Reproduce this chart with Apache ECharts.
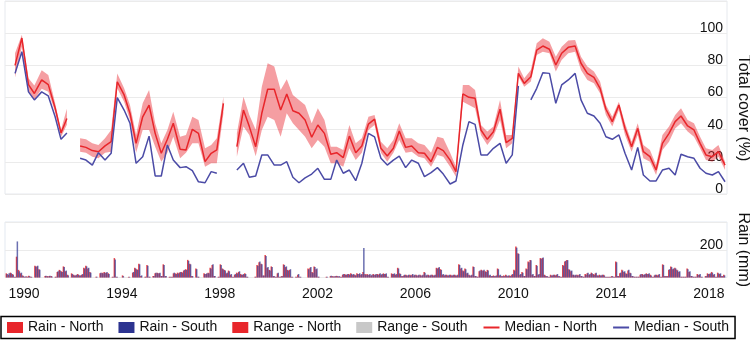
<!DOCTYPE html>
<html>
<head>
<meta charset="utf-8">
<script src="https://cdn.jsdelivr.net/npm/echarts@6/dist/echarts.min.js"></script>
<style>
html, body { margin: 0; padding: 0; background: #fff; }
#chart { width: 750px; height: 342px; }
</style>
</head>
<body>
<div id="chart"></div>
<script>
// survey dates (decimal years), a null row marks a break in the record
var coverDates = [
  1989.63, 1989.91, 1990.18, 1990.42, 1990.72, 1990.99, 1991.27, 1991.51, 1991.75,
  1992.02,
  1992.29, 1992.53, 1992.79, 1993.04, 1993.31, 1993.56, 1993.81, 1994.09, 1994.33, 1994.58, 1994.85, 1995.11,
  1995.36, 1995.61, 1995.86, 1996.10, 1996.38, 1996.62, 1996.88, 1997.13, 1997.40, 1997.65, 1997.88, 1998.15,
  1998.42,
  1998.70, 1998.97, 1999.21, 1999.47, 1999.72, 1999.96,
  2000.23, 2000.49, 2000.74, 2000.99,
  2001.24, 2001.49, 2001.76,
  2002.01, 2002.28, 2002.54, 2002.78,
  2003.05, 2003.30, 2003.56, 2003.81,
  2004.08, 2004.33, 2004.59, 2004.85,
  2005.10, 2005.34, 2005.60, 2005.85,
  2006.12, 2006.37, 2006.64, 2006.90,
  2007.14, 2007.42, 2007.66, 2007.94,
  2008.19, 2008.44, 2008.68, 2008.94,
  2009.19, 2009.46, 2009.71, 2009.96,
  2010.21, 2010.45, 2010.72, 2010.96,
  2011.21, 2011.48, 2011.74, 2011.98,
  2012.25, 2012.53, 2012.77,
  2013.03, 2013.30, 2013.55, 2013.79,
  2014.05, 2014.32, 2014.57, 2014.84,
  2015.09, 2015.32, 2015.59, 2015.84,
  2016.10, 2016.37, 2016.62, 2016.86,
  2017.13, 2017.39, 2017.64, 2017.88,
  2018.14, 2018.39, 2018.66
];

var medianNorth = [
  80, 97, 68, 62.5, 71, 68, 53.5, 38, 47,
  null,
  29.8, 29, 27, 26.3, 29.9, 32.5, 69.8, 61.6, 50.2, 31.5, 48, 55.3,
  37.7, 25.3, 34, 44, 27.8, 27.4, 40.2, 37.7, 20.1, 25.3, 27.4, 56.4,
  null,
  29.4, 52.2, 41.9, 29.4, 50.2, 65.1,
  65.1, 52.2, 62.2, 51.8,
  50.2, 46, 35.3,
  42.9, 37.7, 24.7, 25.7,
  22.6, 36, 25.7, 29.9,
  43.5, 46.5, 28.4, 23.6,
  28.4, 39.2, 29, 29.9,
  25.7, 25.3, 20.1, 29,
  27, 21.1, 13.9, 62.2,
  60.1, 59.5, 39.8, 34,
  38.7, 52.7, 31.9, 34.6,
  75, 68.8, 72.9, 89.5,
  92, 90, 80.2, 87.5,
  91.2, 92, 81.3,
  75, 72.5, 65.7, 52.7,
  45, 55.3, 40.8, 29.4,
  40.8, 26.3, 23.2, 14.9,
  31.5, 37.7, 45, 48.5,
  42.3, 39.8, 31.5, 24.3,
  23.2, 26.3, 18
];

var medianSouth = [
  75, 88.5, 63.5, 58.5, 63.5, 61, 48, 34, 38,
  null,
  22.2, 21.1, 18, 25.7, 21.1, 25.3, 59.9, 52.2, 44, 19.1, 23.2, 36,
  11.2, 11.2, 30.5, 21.1, 16.4, 17, 14.5, 7.6, 7, 13.9, 12.9, null,
  null,
  14.9, 19.1, 10.4, 11.2, 24.3, 24.3,
  18, 18, 20.1, 10.4,
  7, 10, 12.4,
  16, 9.1, 9.1, 21.1,
  12.9, 14.9, 8.3, 19.1,
  37.7, 35.5, 22.2, 18,
  21.1, 23.6, 16.4, 21.1,
  19.1, 10.8, 13.3, 16.4,
  12.4, 6.2, 8.1, 30.5,
  45, 43.3, 24.3, 24.3,
  28.4, 31.5, 19.1, 24.3,
  67.2, null, 58.5, 65.7,
  75.4, 75, 56.4, 67.8,
  70.9, 75, 58.5,
  50.2, 48.5, 44, 35.6,
  34, 36.7, 25.3, 14.9,
  29, 11.8, 8.1, 8.1,
  14.9, 16, 11.8, 24.7,
  23.2, 22.2, 16, 12.9,
  11.8, 13.9, 7.6
];

var rangeNorthLow = [
  72.5, 91.5, 63.5, 58.5, 65.5, 63.5, 51, 35.5, 43,
  null,
  26.3, 25.7, 23.2, 22.2, 25.7, 26.3, 65.7, 57.4, 46, 25.7, 39.8, 39.8,
  29.4, 20.1, 25.7, 35.6, 22.2, 25.7, 31.5, 31.5, 17, 19.1, 19.1, 50.2,
  null,
  23.2, 41.9, 36.7, 23.5, 39.8, 48,
  46, 35.6, 50.2, 44,
  39.8, 35.6, 28.4,
  33.6, 29.4, 19.1, 19.1,
  17, 28.4, 21.1, 25.7,
  39.8, 42.9, 25.7, 20.1,
  25.7, 33.6, 25.7, 26.3,
  23.2, 22.2, 17, 24.3,
  23.2, 17, 10.8, 57.4,
  55.3, 53.3, 36.7, 30.5,
  35.6, 46, 28.4, 31.5,
  73, 66.7, 69.9, 86.4,
  88.5, 87.5, 76.1, 83.3,
  87.5, 88.5, 77.1,
  70.9, 68.8, 62.6, 49.1,
  41.9, 52.2, 36.7, 26.3,
  36.7, 22.2, 20.1, 11.8,
  27.4, 32.5, 40.8, 44,
  38.8, 35.6, 28.4, 21.1,
  20.1, 23.2, 14.9
];

var rangeNorthHigh = [
  87.5, 99, 72, 67.5, 77, 74, 56.5, 40, 53,
  null,
  34.6, 34, 31.5, 30.5, 34.6, 39.8, 75, 65.7, 55.3, 36.7, 56.4, 64.7,
  44, 31.5, 39.8, 51.2, 35.6, 36.7, 48, 46, 28.4, 30.5, 34.6, 60.5,
  null,
  37.7, 60.5, 49.1, 40, 66.7, 81.3,
  79.2, 64.7, 71.3, 61.6,
  58.5, 55.3, 44,
  53.3, 46, 29.4, 29.4,
  27.4, 42.9, 31.5, 34.6,
  48.1, 49.1, 32.5, 28.4,
  33.6, 44, 34.6, 34.6,
  31.5, 30.5, 25.7, 35.6,
  34.6, 25.7, 17, 67.8,
  67.8, 64.7, 42.9, 38.8,
  41.9, 58.5, 36.7, 36.7,
  79.2, 71.9, 77.1, 93.7,
  96.8, 94.7, 85.4, 91.6,
  95.4, 95.7, 85.4,
  79.2, 76.1, 69.9, 55.3,
  48.1, 57.4, 44, 32.5,
  44, 30.5, 27.4, 18,
  36.7, 41.9, 49.1, 53.3,
  46, 44, 35.6, 28.4,
  27.4, 30.5, 20.1
];

// monthly rain (mm), Jan..Dec per year
var rainYears = [1989, 1990, 1991, 1992, 1993, 1994, 1995, 1996, 1997, 1998, 1999, 2000, 2001, 2002, 2003,
  2004, 2005, 2006, 2007, 2008, 2009, 2010, 2011, 2012, 2013, 2014, 2015, 2016, 2017, 2018];

var rainNorth = [
  [null, null, null, 30, 20, 35, 25, 5, 150, 55, 30, 15],
  [5, 8, 12, 5, 0, 85, 80, 60, 0, 0, 10, 10],
  [10, 10, 0, 5, 40, 55, 45, 80, 45, 20, 0, 30],
  [20, 15, 25, 15, 20, 70, 85, 65, 40, 0, 0, 5],
  [0, 30, 35, 40, 35, 30, 0, 5, 140, 5, 0, 0],
  [15, 0, 0, 5, 0, 35, 70, 60, 100, 10, 0, 5],
  [90, 5, 0, 10, 30, 35, 30, 10, 95, 10, 0, 5],
  [5, 30, 30, 35, 35, 40, 50, 60, 127, 100, 10, 0],
  [65, 5, 0, 0, 30, 25, 35, 70, 90, 10, 0, 5],
  [95, 65, 55, 30, 50, 20, 5, 20, 35, 40, 25, 20],
  [30, 5, 0, 0, 0, 5, 90, 110, 100, 15, 163, 70],
  [55, 80, 10, 5, 30, 5, 10, 95, 75, 55, 55, 5],
  [0, 5, 20, 5, 0, 0, 0, 65, 70, 40, 80, 60],
  [5, 0, 0, 0, 5, 0, 10, 10, 8, 12, 8, 5],
  [20, 25, 20, 25, 30, 20, 20, 30, 25, 20, 40, 25],
  [25, 20, 15, 25, 20, 25, 25, 20, 30, 25, 5, 0],
  [30, 25, 20, 70, 30, 10, 15, 20, 15, 20, 20, 15],
  [20, 15, 20, 15, 40, 15, 20, 15, 20, 15, 70, 70],
  [60, 20, 15, 20, 15, 20, 15, 20, 15, 95, 65, 50],
  [65, 30, 20, 15, 80, 10, 5, 45, 55, 50, 45, 55],
  [15, 10, 15, 10, 65, 15, 10, 15, 20, 10, 15, 20],
  [55, 224, 175, 20, 40, 10, 65, 115, 127, 20, 10, 90],
  [20, 140, 140, 20, 10, 5, 20, 15, 20, 20, 10, 5],
  [90, 115, 127, 60, 45, 20, 15, 20, 20, 10, 5, 25],
  [30, 20, 35, 25, 30, 15, 20, 15, 20, 5, 5, 5],
  [10, 5, 115, 10, 30, 55, 40, 30, 50, 35, 10, 5],
  [5, 5, 20, 25, 20, 30, 25, 20, 5, 15, 20, 20],
  [5, 95, 10, 10, 55, 80, 60, 70, 55, 40, 5, 5],
  [5, 65, 40, 10, 5, 5, 25, 20, 5, 0, 10, 30],
  [25, 40, 20, 5, 35, 25, 10, 20]
];

var rainSouth = [
  [null, null, null, 25, 30, 30, 20, 5, 260, 45, 35, 10],
  [8, 5, 10, 5, 0, 80, 85, 55, 0, 0, 12, 8],
  [12, 8, 0, 5, 45, 50, 40, 75, 50, 15, 0, 25],
  [15, 20, 20, 15, 25, 65, 80, 70, 35, 0, 0, 5],
  [0, 35, 30, 35, 40, 25, 0, 5, 130, 5, 0, 0],
  [10, 0, 0, 5, 0, 40, 65, 55, 95, 15, 0, 5],
  [85, 5, 0, 10, 35, 30, 35, 10, 90, 10, 0, 5],
  [5, 35, 25, 30, 40, 35, 55, 55, 120, 95, 10, 0],
  [60, 5, 0, 0, 25, 30, 30, 65, 95, 10, 0, 5],
  [90, 60, 50, 35, 45, 25, 5, 25, 30, 45, 20, 25],
  [25, 5, 0, 0, 0, 5, 85, 115, 95, 15, 155, 75],
  [50, 75, 10, 5, 35, 5, 10, 90, 80, 50, 60, 5],
  [0, 5, 25, 5, 0, 0, 0, 60, 75, 35, 75, 65],
  [5, 0, 0, 0, 5, 0, 12, 8, 10, 10, 10, 5],
  [25, 20, 25, 20, 25, 25, 15, 25, 30, 25, 212, 20],
  [20, 25, 20, 20, 25, 20, 30, 25, 25, 30, 5, 0],
  [25, 30, 25, 65, 25, 10, 20, 15, 20, 15, 25, 20],
  [15, 20, 15, 20, 35, 20, 15, 20, 15, 20, 65, 75],
  [55, 25, 20, 15, 20, 15, 20, 15, 20, 90, 70, 45],
  [60, 35, 15, 20, 75, 10, 5, 50, 50, 55, 40, 50],
  [20, 10, 10, 15, 60, 20, 10, 10, 15, 15, 10, 25],
  [50, 215, 170, 25, 35, 10, 60, 110, 125, 25, 10, 85],
  [25, 135, 145, 15, 10, 5, 15, 20, 15, 25, 10, 5],
  [85, 120, 125, 55, 50, 20, 20, 15, 25, 10, 5, 20],
  [35, 25, 30, 20, 35, 15, 15, 20, 15, 5, 5, 5],
  [10, 5, 110, 10, 35, 50, 45, 25, 55, 30, 10, 5],
  [5, 5, 25, 20, 25, 25, 30, 15, 5, 20, 15, 25],
  [5, 90, 10, 10, 60, 75, 65, 65, 50, 45, 5, 5],
  [5, 60, 45, 10, 5, 5, 20, 25, 5, 0, 10, 25],
  [30, 35, 25, 5, 30, 30, 10, 15]
];

var yearTicks = [1990, 1994, 1998, 2002, 2006, 2010, 2014, 2018];

var RED = '#e8262b';
var BLUE = '#4b4ba6';
var NAVY = '#2c3390';
var BAND = 'rgba(232, 40, 48, 0.45)';
var FONT = '"Liberation Sans", Arial, Helvetica, sans-serif';

function pairs(vals) {
  return coverDates.map(function (t, i) {
    return [t, vals[i] === null ? '-' : vals[i]];
  });
}

function rainPoints(rows) {
  var pts = [];
  rows.forEach(function (row, i) {
    row.forEach(function (v, m) {
      if (v !== null) pts.push([rainYears[i] + (m + 0.5) / 12, v]);
    });
  });
  return pts;
}

// unbroken runs of the range band, as lists of indices
var bandRuns = [];
(function () {
  var run = [];
  coverDates.forEach(function (t, i) {
    if (rangeNorthLow[i] === null) {
      if (run.length) bandRuns.push(run);
      run = [];
    } else {
      run.push(i);
    }
  });
  if (run.length) bandRuns.push(run);
})();

function renderBand(params, api) {
  var run = bandRuns[params.dataIndex];
  var top = run.map(function (i) { return api.coord([coverDates[i], rangeNorthHigh[i]]); });
  var bottom = run.slice().reverse().map(function (i) { return api.coord([coverDates[i], rangeNorthLow[i]]); });
  return {
    type: 'polygon',
    shape: { points: top.concat(bottom) },
    style: { fill: BAND }
  };
}

var chart = echarts.init(document.getElementById('chart'));

var axisText = { color: '#111', fontSize: 14, fontFamily: FONT };

chart.setOption({
  animation: false,
  textStyle: { fontFamily: FONT },
  grid: [
    { left: 5, right: 23, top: 1, height: 193, outerBoundsMode: 'none', show: true, borderColor: '#e6e9ee', borderWidth: 1 },
    { left: 5, right: 23, top: 222, height: 55.5, outerBoundsMode: 'none', show: true, borderColor: '#e3e9f1', borderWidth: 1 }
  ],
  xAxis: [
    { type: 'value', gridIndex: 0, min: 1989.22, max: 2018.74, show: false },
    {
      type: 'value', gridIndex: 1, min: 1989.22, max: 2018.74,
      axisLine: { show: false }, axisTick: { show: false }, splitLine: { show: false },
      axisLabel: Object.assign({ margin: 10, customValues: yearTicks, formatter: function (v) { return String(v); } }, axisText)
    }
  ],
  yAxis: [
    {
      type: 'value', gridIndex: 0, position: 'right', min: 0, max: 120, interval: 20,
      name: 'Total cover (%)', nameLocation: 'middle', nameRotate: -90, nameGap: 8,
      nameTextStyle: { fontSize: 16, color: '#111', fontFamily: FONT, padding: [0, 0, 0, 21] },
      axisLine: { show: false }, axisTick: { show: false },
      splitLine: { lineStyle: { color: '#ebebeb' } },
      axisLabel: Object.assign({ inside: true, margin: 4, showMaxLabel: false, verticalAlign: 'bottom', lineHeight: 10 }, axisText)
    },
    {
      type: 'value', gridIndex: 1, position: 'right', min: 0, max: 400, interval: 200,
      name: 'Rain (mm)', nameLocation: 'middle', nameRotate: -90, nameGap: 8,
      nameTextStyle: { fontSize: 16, color: '#111', fontFamily: FONT },
      axisLine: { show: false }, axisTick: { show: false },
      splitLine: { lineStyle: { color: '#ebebeb' } },
      axisLabel: Object.assign({ inside: true, margin: 4, showMinLabel: false, showMaxLabel: false, verticalAlign: 'bottom', lineHeight: 10 }, axisText)
    }
  ],
  legend: {
    left: 1, top: 316.5,
    padding: [4, 6, 4, 6],
    borderColor: '#000', borderWidth: 1.5,
    itemWidth: 16, itemHeight: 11, itemGap: 15,
    selectedMode: false,
    textStyle: { fontSize: 14, color: '#111', fontFamily: FONT },
    data: [
      { name: 'Rain - North', icon: 'rect', itemStyle: { color: RED, opacity: 1 } },
      { name: 'Rain - South', icon: 'rect', itemStyle: { color: NAVY, opacity: 1 } },
      { name: 'Range - North', icon: 'rect', itemStyle: { color: RED, opacity: 1 } },
      { name: 'Range - South', icon: 'rect', itemStyle: { color: '#c8c8c8', opacity: 1 } },
      { name: 'Median - North', itemStyle: { opacity: 0 }, lineStyle: { width: 2, color: RED } },
      { name: 'Median - South', itemStyle: { opacity: 0 }, lineStyle: { width: 2, color: BLUE } }
    ]
  },
  series: [
    {
      name: 'Rain - North', type: 'bar', xAxisIndex: 1, yAxisIndex: 1,
      barWidth: 1.5, barGap: '-45%', itemStyle: { color: RED, opacity: 0.85 },
      data: rainPoints(rainNorth)
    },
    {
      name: 'Rain - South', type: 'bar', xAxisIndex: 1, yAxisIndex: 1,
      barWidth: 1.5, barGap: '-45%', itemStyle: { color: NAVY, opacity: 0.7 },
      data: rainPoints(rainSouth)
    },
    {
      name: 'Range - North', type: 'custom', color: RED,
      renderItem: renderBand, clip: true,
      data: bandRuns.map(function (run) { return [coverDates[run[0]], rangeNorthLow[run[0]]]; })
    },
    {
      name: 'Range - South', type: 'line', symbol: 'none', color: '#c8c8c8', data: []
    },
    {
      name: 'Median - North', type: 'line', symbol: 'none', color: RED,
      lineStyle: { width: 1.5, color: RED },
      data: pairs(medianNorth)
    },
    {
      name: 'Median - South', type: 'line', symbol: 'none', color: BLUE,
      lineStyle: { width: 1.5, color: BLUE },
      data: pairs(medianSouth)
    }
  ]
});
</script>
</body>
</html>
